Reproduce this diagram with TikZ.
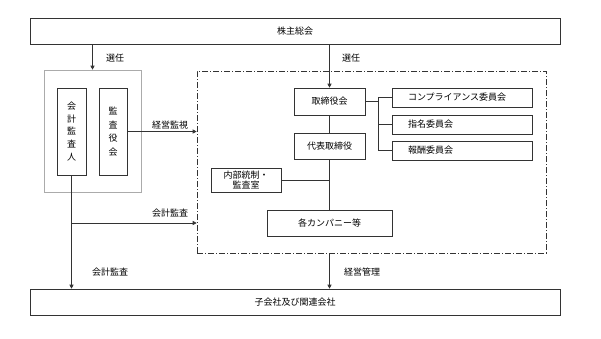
\documentclass[tikz,border=0pt]{standalone}
\usepackage{fontspec}
\newfontfamily\cjk{Noto Sans CJK JP}
\usetikzlibrary{arrows.meta, calc}
\definecolor{ink}{HTML}{333333}
\definecolor{ltgray}{HTML}{ABABAB}

\begin{document}
\begin{tikzpicture}[
  x=1pt, y=-1pt,
  >={Triangle[length=4pt, width=4pt]},
  box/.style={draw=ink, line width=0.6pt, inner sep=0pt, font=\cjk\fontsize{9}{10}\selectfont},
  vbox/.style={box, align=center},
  cbox/.style={box, minimum height=19pt, inner xsep=16pt, text width=108pt, align=left},
  arr/.style={->, ink, line width=0.6pt},
  ln/.style={ink, line width=0.6pt},
  lbl/.style={font=\cjk\fontsize{9}{10}\selectfont, inner sep=0pt},
]
\useasboundingbox (0,0) rectangle (601,338);

% ══════════════════════════════════════════════════════
% Top and bottom bands
% ══════════════════════════════════════════════════════
\node[box, minimum width=530pt, minimum height=26pt] (agm) at (295,31) {株主総会};
\node[box, minimum width=530pt, minimum height=26pt] (subs) at (295,302) {子会社及び関連会社};

% ══════════════════════════════════════════════════════
% Audit side
% ══════════════════════════════════════════════════════
\node[draw=ltgray, line width=0.6pt, minimum width=97pt, minimum height=122pt] (audit) at (92.5,131) {};
\node[vbox, minimum width=29pt, minimum height=87pt, font=\cjk\fontsize{9}{12.75}\selectfont]
  (auditor) at (71.5,131.5) {会\\計\\監\\査\\人};
\node[vbox, minimum width=28pt, minimum height=87pt, font=\cjk\fontsize{9}{13.7}\selectfont]
  (board) at (113,131.5) {監\\査\\役\\会};

% ══════════════════════════════════════════════════════
% Management side (dash-dot frame)
% ══════════════════════════════════════════════════════
\node[draw=ink, line width=0.6pt, dash pattern=on 6pt off 2pt on 1pt off 2pt,
  minimum width=349pt, minimum height=182pt] (mgmt) at (371.5,162) {};

\node[box, minimum width=71pt, minimum height=27pt] (directors) at (329.5,101.5) {取締役会};
\node[box, minimum width=71pt, minimum height=26pt] (ceo) at (329.5,146) {代表取締役};
\node[box, minimum width=125pt, minimum height=26pt] (company) at (329.5,223) {各カンパニー等};
\node[vbox, minimum width=70pt, minimum height=24pt, font=\cjk\fontsize{9}{10.5}\selectfont]
  (internal) at (246,180) {内部統制・\\監査室};

% Committees
\node[cbox] (comply) at (462,97.5) {コンプライアンス委員会};
\node[cbox] (nominate) at (462,124.5) {指名委員会};
\node[cbox] (reward) at (462,150.5) {報酬委員会};

% ══════════════════════════════════════════════════════
% Connectors
% ══════════════════════════════════════════════════════
\draw[arr] (audit.north |- agm.south) -- (audit.north);
\draw[arr] (directors.north |- agm.south) -- (directors.north);
\draw[arr] (board.east) -- (board.east -| mgmt.west);

% Committee bus
\coordinate (bus) at (378,101.5);
\draw[ln] (directors.east) -- (bus);
\draw[ln] (bus |- comply.west) -- (bus |- reward.west);
\foreach \c in {comply, nominate, reward}{
  \draw[ln] (bus |- \c.west) -- (\c.west);
}

\draw[ln] (directors.south) -- (ceo.north);
\draw[ln] (ceo.south) -- (company.north);
\draw[ln] (internal.east) -- (internal.east -| ceo.south);

% Accounting audit
\coordinate (split) at (71.5,223);
\draw[arr] (auditor.south) -- (auditor.south |- subs.north);
\draw[arr] (split) -- (split -| mgmt.west);
\draw[arr] (directors |- mgmt.south) -- (directors |- subs.north);

% ══════════════════════════════════════════════════════
% Labels
% ══════════════════════════════════════════════════════
\node[lbl] at (115,58) {選任};
\node[lbl] at (351,58) {選任};
\node[lbl] at (170,125) {経営監視};
\node[lbl] at (170,213) {会計監査};
\node[lbl] at (110,272) {会計監査};
\node[lbl] at (362,272) {経営管理};

\end{tikzpicture}
\end{document}
